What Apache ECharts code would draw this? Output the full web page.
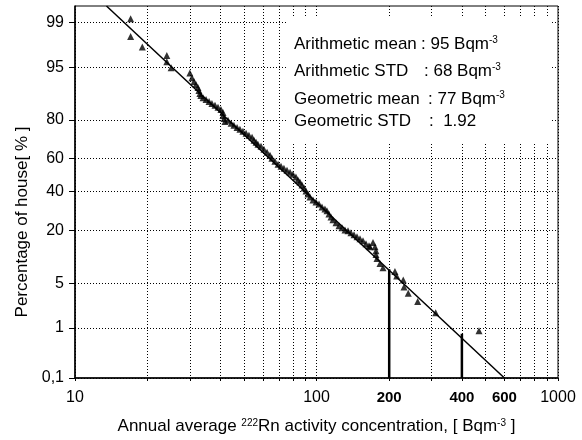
<!DOCTYPE html>
<html><head><meta charset="utf-8">
<script src="https://cdn.jsdelivr.net/npm/echarts@6/dist/echarts.min.js"></script>
<style>html,body{margin:0;padding:0;background:#fff}#c{width:582px;height:440px}</style>
</head><body><div id="c"></div><script>
// ---- data ----
const conc = [17.0,17.0,19.0,24.0,24.0,25.0,29.9,30.5,31.1,31.7,32.3,32.6,32.9,33.2,33.9,34.9,35.9,36.9,38.0,39.1,40.2,41.0,41.0,41.4,41.8,43.0,44.3,45.5,46.9,48.2,49.6,51.1,52.5,54.1,55.1,56.2,57.2,58.9,60.6,62.4,64.2,65.4,67.3,69.3,71.3,73.3,75.5,77.7,79.9,82.2,83.8,85.4,87.1,88.8,90.5,92.2,94.0,96.7,99.5,102.4,105.4,108.4,110.5,112.6,114.8,117.0,120.4,123.9,127.5,131.2,135.0,138.9,143.0,147.1,151.4,155.8,160.3,165.0,166.5,171.4,174.7,176.3,176.3,178.0,183.2,188.5,211.3,214.8,228.7,230.3,239.9,262.4,311.6,470.8];
const pct  = [99.14,98.26,97.44,96.58,95.79,94.91,94.0,93.1,92.3,91.6,90.9,90.1,89.3,88.7,88.1,87.5,86.9,86.2,85.6,84.9,84.1,83.0,81.8,80.6,79.3,79.8,78.5,77.6,76.6,75.7,74.8,73.8,72.8,71.8,70.2,69.1,68.1,67.0,65.3,63.6,61.9,60.2,58.4,56.6,55.4,54.2,53.0,51.8,50.6,48.8,47.0,45.8,44.0,42.2,40.4,38.7,36.9,35.2,34.1,33.0,31.4,30.3,29.3,27.7,26.2,24.8,23.4,22.0,21.1,20.2,19.8,19.0,18.2,17.4,16.6,15.9,14.8,14.1,13.8,15.2,13.8,12.5,11.3,10.2,8.9,7.9,7.1,6.2,5.5,4.4,3.6,2.7,1.8,0.89];
const fitConc = [13.5, 600];
const fitPct  = [99.5, 0.1];
const dropConc = [200, 400];
const dropTopPct = [7.6, 0.78];
const yMinPct = 0.1, yMaxPct = 99.5;
const yTicks = [0.1, 1, 5, 20, 40, 60, 80, 95, 99];
const yTickLabels = ['0,1', '1', '5', '20', '40', '60', '80', '95', '99'];
const xTicks = [10,20,30,40,50,60,70,80,90,100,200,300,400,500,600,700,800,900,1000];
const xLabels = [10, 100, 200, 400, 600, 1000];
const xBoldLabels = [200, 400, 600];
const statLabels = ['Arithmetic mean', 'Arithmetic STD', 'Geometric mean', 'Geometric STD'];
const statValues = ['95', '68', '77', '1.92'];
const statUnits = [true, true, true, false];

// inverse normal CDF (probability axis transform)
function probit(p){
  const a=[-3.969683028665376e+01,2.209460984245205e+02,-2.759285104469687e+02,1.383577518672690e+02,-3.066479806614716e+01,2.506628277459239e+00];
  const b=[-5.447609879822406e+01,1.615858368580409e+02,-1.556989798598866e+02,6.680131188771972e+01,-1.328068155288572e+01];
  const c=[-7.784894002430293e-03,-3.223964580411365e-01,-2.400758277161838e+00,-2.549732539343734e+00,4.374664141464968e+00,2.938163982698783e+00];
  const d=[7.784695709041462e-03,3.224671290700398e-01,2.445134137142996e+00,3.754408661907416e+00];
  const pl=0.02425, ph=1-pl; let q,r;
  if(p<pl){q=Math.sqrt(-2*Math.log(p));return (((((c[0]*q+c[1])*q+c[2])*q+c[3])*q+c[4])*q+c[5])/((((d[0]*q+d[1])*q+d[2])*q+d[3])*q+1);}
  if(p<=ph){q=p-0.5;r=q*q;return (((((a[0]*r+a[1])*r+a[2])*r+a[3])*r+a[4])*r+a[5])*q/(((((b[0]*r+b[1])*r+b[2])*r+b[3])*r+b[4])*r+1);}
  q=Math.sqrt(-2*Math.log(1-p));return -(((((c[0]*q+c[1])*q+c[2])*q+c[3])*q+c[4])*q+c[5])/((((d[0]*q+d[1])*q+d[2])*q+d[3])*q+1);
}
const Z = p => probit(p/100);

const FONT = 'Liberation Sans, Arial, sans-serif';
const yTickZ = yTicks.map(Z);
const chart = echarts.init(document.getElementById('c'), null, {renderer:'canvas'});

const supRich = { s: { fontSize: 10, verticalAlign: 'top', fontFamily: FONT, color:'#000' } };

const graphics = [
  { type:'rect', z: 10, shape:{x:286, y:17, width:264, height:126}, style:{fill:'#fff'} },
  { type:'text', z: 11, rotation: Math.PI/2, x: 22, y: 222,
    style:{ text:'Percentage of house[ % ]', font:'17px '+FONT, fill:'#000', align:'center', verticalAlign:'middle' } }
];
const lineY = [44, 71, 99, 121];
const colonX = [421, 424, 428, 429];
statLabels.forEach((t,i)=>{
  graphics.push({ type:'text', z:11, x:294, y:lineY[i], style:{ text:t, font:'17px '+FONT, fill:'#000', verticalAlign:'middle' } });
  const txt = statUnits[i] ? ': ' + statValues[i] + ' Bqm{s|-3}' : ':  ' + statValues[i];
  graphics.push({ type:'text', z:11, x:colonX[i], y:lineY[i], style:{ text:txt, font:'17px '+FONT, fill:'#000', verticalAlign:'middle', rich:{ s:{ fontSize:10, verticalAlign:'top', fontFamily:FONT, fill:'#000' } } } });
});

const series = [
  { type:'scatter', symbol:'triangle', symbolSize:7, itemStyle:{color:'#000'}, z:3,
    data: conc.map((x,i)=>[x, Z(pct[i])]) },
  { type:'line', symbol:'none', lineStyle:{color:'#000', width:1.5}, z:4,
    data: fitConc.map((x,i)=>[x, Z(fitPct[i])]) }
];
dropConc.forEach((x,i)=>{
  series.push({ type:'line', symbol:'none', lineStyle:{color:'#000', width:2.5}, z:4,
    data: [[x, Z(yMinPct)], [x, Z(dropTopPct[i])]] });
});

chart.setOption({
  animation:false,
  backgroundColor:'#fff',
  grid:{ left:75, top:6, right:24, bottom:60, show:true, borderColor:'#000', borderWidth:1, backgroundColor:'transparent' },
  xAxis:{
    type:'log', logBase:10, min:10, max:1000,
    name:'Annual average {s|222}Rn activity concentration, [ Bqm{s|-3} ]',
    nameLocation:'middle', nameGap:40,
    nameTextStyle:{ fontFamily:FONT, fontSize:17, color:'#000', rich:supRich },
    axisLine:{ show:true, onZero:false, lineStyle:{color:'#000', width:1.5} },
    axisTick:{ show:true, inside:false, length:3, customValues:xTicks, lineStyle:{color:'#000'} },
    axisLabel:{ customValues:xLabels, margin:12, fontFamily:FONT, fontSize:16, color:'#000',
      formatter: v => { const r = Math.round(v); return xBoldLabels.includes(r) ? '{b|'+r+'}' : String(r); },
      rich:{ b:{ fontFamily:FONT, fontSize:15, fontWeight:'bold', color:'#000' } } },
    splitLine:{ show:true, lineStyle:{ color:'#000', width:1, type:[1,2] } },
    minorTick:{show:false}, minorSplitLine:{show:false}
  },
  yAxis:{
    type:'value', min:Z(yMinPct), max:Z(yMaxPct),
    axisLine:{ show:true, onZero:false, lineStyle:{color:'#000', width:1.5} },
    axisTick:{ show:true, inside:false, length:6, customValues:yTickZ, lineStyle:{color:'#000'} },
    axisLabel:{ customValues:yTickZ, margin:11, fontFamily:FONT, fontSize:16, color:'#000',
      formatter: v => { let bi=0, bd=1e9; yTickZ.forEach((z,i)=>{ const dd=Math.abs(z-v); if(dd<bd){bd=dd;bi=i;} }); return yTickLabels[bi]; } },
    splitLine:{ show:true, lineStyle:{ color:'#000', width:1, type:[1,2] } }
  },
  graphic: graphics,
  series
});
</script></body></html>
